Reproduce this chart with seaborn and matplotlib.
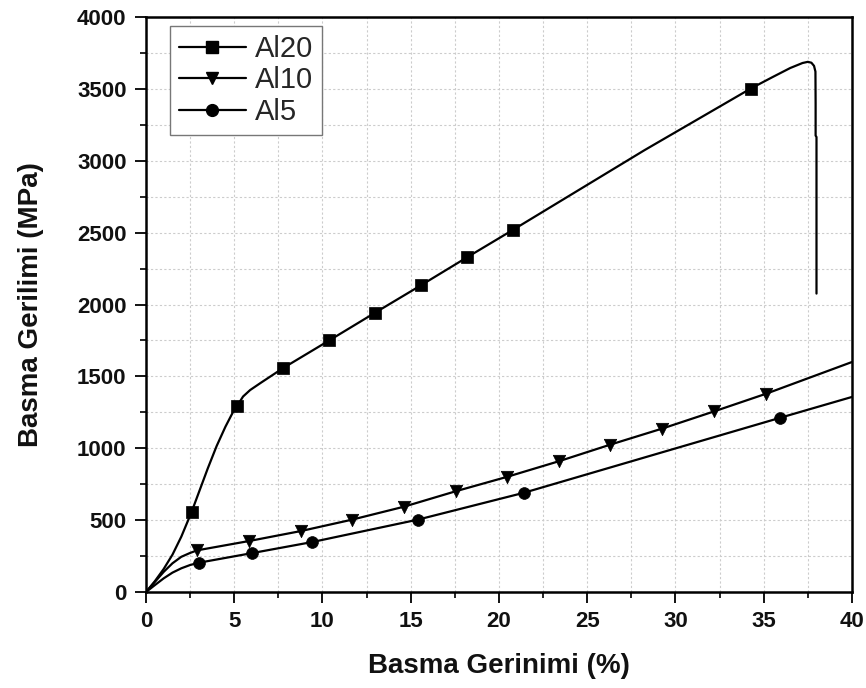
import matplotlib
matplotlib.use("Agg")
import matplotlib.pyplot as plt
import seaborn as sns
import pandas as pd
from matplotlib.lines import Line2D
from matplotlib.ticker import MultipleLocator

# ---- data ----
al20_strain = [0, 0.5, 1.0, 1.5, 2.0, 2.58, 3.0, 3.5, 4.0, 4.5, 4.9, 5.17, 5.5, 5.9, 6.5,
               7.77, 10.38, 12.98, 15.57, 18.2, 20.79, 28.25, 34.26, 35.5, 36.5, 37.2,
               37.5, 37.7, 37.85, 37.93, 37.94, 37.94, 37.99, 37.99]
al20_stress = [0, 75, 160, 260, 385, 556, 695, 860, 1015, 1150, 1245, 1296, 1360, 1405, 1455,
               1558, 1750, 1943, 2133, 2329, 2519, 3074, 3502, 3582, 3645, 3680,
               3688, 3682, 3660, 3620, 3400, 3175, 3165, 2076]
al20_mark_x = [2.58, 5.17, 7.77, 10.38, 12.98, 15.57, 18.2, 20.79, 34.26]
al20_mark_y = [556, 1296, 1558, 1750, 1943, 2133, 2329, 2519, 3502]

al10_strain = [0, 0.5, 1.0, 1.5, 2.0, 2.5, 2.9, 5.85, 8.77, 11.66, 14.6, 17.55, 20.45, 23.4,
               26.3, 29.25, 32.2, 35.15, 40]
al10_stress = [0, 70, 140, 200, 245, 272, 290, 355, 424, 503, 593, 701, 801, 910,
               1025, 1137, 1257, 1380, 1600]
al10_mark_x = [2.9, 5.85, 8.77, 11.66, 14.6, 17.55, 20.45, 23.4, 26.3, 29.25, 32.2, 35.15]
al10_mark_y = [290, 355, 424, 503, 593, 701, 801, 910, 1025, 1137, 1257, 1380]

al5_strain = [0, 0.5, 1.0, 1.5, 2.0, 2.5, 3.0, 6.02, 9.43, 15.42, 21.4, 35.9, 40]
al5_stress = [0, 48, 95, 135, 165, 188, 204, 271, 348, 504, 690, 1211, 1357]
al5_mark_x = [3.0, 6.02, 9.43, 15.42, 21.4, 35.9]
al5_mark_y = [204, 271, 348, 504, 690, 1211]

series_names = ["Al20", "Al10", "Al5"]
x_ticks = [0, 5, 10, 15, 20, 25, 30, 35, 40]
y_ticks = [0, 500, 1000, 1500, 2000, 2500, 3000, 3500, 4000]

# ---- style ----
sns.set_style("ticks")
plt.rcParams['font.family'] = ['Liberation Sans', 'DejaVu Sans']

fig = plt.figure(figsize=(8.66, 6.88), dpi=100)
ax = fig.add_axes([0.1686, 0.1395, 0.8152, 0.8358])

lw = 1.6
series = [
    (al20_strain, al20_stress, al20_mark_x, al20_mark_y, 's', 64),
    (al10_strain, al10_stress, al10_mark_x, al10_mark_y, 'v', 80),
    (al5_strain, al5_stress, al5_mark_x, al5_mark_y, 'o', 72),
]
for sx, sy, mx, my, mk, ms in series:
    sns.lineplot(x=sx, y=sy, sort=False, estimator=None, color='black', lw=lw, ax=ax,
                 legend=False, zorder=2)
    sns.scatterplot(x=mx, y=my, marker=mk, s=ms, color='black', edgecolor='black',
                    linewidth=0.5, ax=ax, legend=False, zorder=3)
for line in ax.get_lines():
    line.set_solid_joinstyle('round')

ax.set_xlim(0, 40)
ax.set_ylim(0, 4000)
ax.set_xticks(x_ticks)
ax.set_yticks(y_ticks)
ax.xaxis.set_minor_locator(MultipleLocator(2.5))
ax.yaxis.set_minor_locator(MultipleLocator(250))
ax.set_xticklabels([str(t) for t in x_ticks], fontweight='bold')
ax.set_yticklabels([str(t) for t in y_ticks], fontweight='bold')

ax.tick_params(which='major', direction='out', length=8, width=1.3, labelsize=16, pad=6,
               color='black', labelcolor='#111111')
ax.tick_params(which='minor', direction='out', length=4.5, width=1.2, color='black')

ax.set_axisbelow(True)
ax.grid(which='both', color='#cccccc', linestyle=(0, (2, 2)), linewidth=0.8)

for sp in ax.spines.values():
    sp.set_linewidth(1.8)
    sp.set_color('black')

ax.set_xlabel("Basma Gerinimi (%)", fontsize=20, fontweight='bold', labelpad=15,
              color='#111111')
ax.set_ylabel("Basma Gerilimi (MPa)", fontsize=20, fontweight='bold', labelpad=24,
              color='#111111')

markers = ['s', 'v', 'o']
handles = [Line2D([], [], color='black', lw=lw, marker=m, markersize=8.5)
           for m in markers]
leg = ax.legend(handles, series_names, loc='upper left', bbox_to_anchor=(0.034, 0.984),
                borderaxespad=0, fontsize=21, frameon=True, fancybox=False, framealpha=1,
                edgecolor='#777777', handlelength=2.3, handletextpad=0.3,
                labelspacing=0.12, borderpad=0.3)
leg.get_frame().set_linewidth(1.0)

fig.savefig("out.png", dpi=100)
